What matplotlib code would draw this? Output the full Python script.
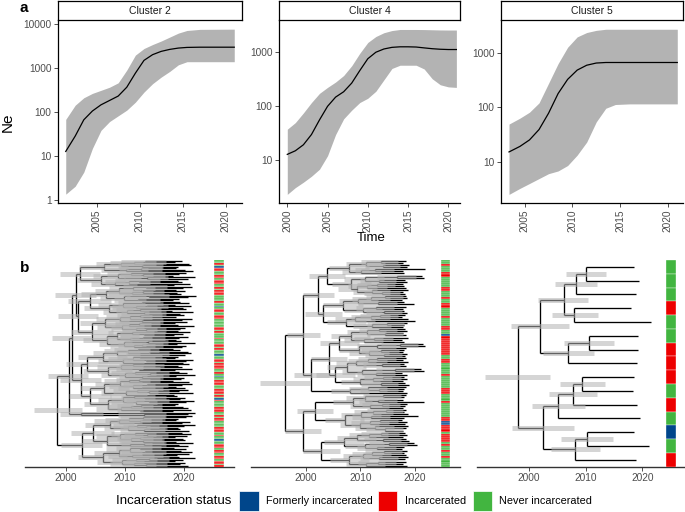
import numpy as np
import matplotlib
matplotlib.use('Agg')
import matplotlib.pyplot as plt
from matplotlib.collections import LineCollection
from matplotlib.patches import Rectangle

plt.rcParams['font.family'] = ['Liberation Sans', 'DejaVu Sans']

# ---- panel a: skyline Ne (median + 95% HPD) ----
c2_year = [2001.4, 2002.5, 2003.5, 2004.5, 2005.5, 2006.5, 2007.5, 2008.5, 2009.5,
           2010.5, 2011.5, 2012.5, 2013.5, 2014.5, 2015.5, 2017.0, 2021.0]
c2_mid = [12.9, 28.8, 67.6, 107, 148, 186, 234, 372, 776, 1514, 2042, 2427, 2692,
          2884, 2985, 3020, 3020]
c2_hi = [69, 145, 214, 269, 316, 372, 468, 912, 1995, 2818, 3467, 4169, 5129, 6310,
         7244, 7674, 7762]
c2_lo = [1.38, 2.09, 4.37, 15.1, 38.9, 61.7, 83.2, 112, 170, 288, 447, 631, 851, 1202,
         1413, 1413, 1413]

c4_year = [2000, 2001, 2002, 2003, 2004, 2005, 2006, 2007, 2008, 2009, 2010, 2011,
           2012, 2013, 2014, 2015, 2016, 2017, 2018, 2019, 2020, 2021]
c4_mid = [12.7, 14.8, 19.1, 29.5, 55, 98, 145, 182, 263, 447, 741, 977, 1122, 1202,
          1230, 1230, 1219, 1175, 1135, 1109, 1096, 1096]
c4_hi = [37, 49, 74, 115, 170, 219, 275, 363, 550, 933, 1479, 1905, 2239, 2455, 2570,
         2570, 2570, 2560, 2540, 2520, 2512, 2512]
c4_lo = [2.32, 3.09, 3.89, 5.01, 6.76, 12.0, 29.5, 57.5, 83.2, 115, 138, 186, 302,
         490, 562, 562, 562, 479, 316, 245, 224, 219]

c5_year = [2003.35, 2004.5, 2005.5, 2006.5, 2007.5, 2008.5, 2009.5, 2010.5, 2011.5,
           2012.5, 2013.5, 2014.5, 2016.0, 2021.0]
c5_mid = [15.1, 19.1, 25.1, 38.9, 77.6, 178, 324, 479, 589, 646, 661, 661, 661, 661]
c5_hi = [49, 63, 81, 120, 275, 631, 1259, 1950, 2344, 2570, 2692, 2692, 2692, 2692]
c5_lo = [2.51, 3.24, 3.98, 4.90, 6.03, 6.76, 8.51, 13.2, 22.9, 53.7, 95.5, 112, 115, 115]

# ---- panel b: dated trees, node label = date/hpd_lo/hpd_hi (years after 2000) ----
BASE_YEAR = 2000
tree_c2 = (
    "((((("
    "((((19.6,18.4)13.4/9.4/16.9,20.8)11.6/7.5/15.2,(21.2,19.0)12.9/8.8/16.5)9.3/5.1/13.0,((18.7,20.1)12.7/8.9/16.3,21.6)10.2/6.0/13.9)6.4/2.2/10.5"
    ","
    "(((20.3,(19.2,18.1)13.1/9.2/16.7)11.0/6.9/14.8,(21.8,20.6)13.8/9.9/17.2)8.8/4.6/12.7,(((18.9,19.7)12.4/8.3/16.0,21.0)10.6/6.6/14.3,18.3)8.3/4.2/12.1)5.9/1.8/10.0"
    ")2.4/-1.0/5.8,(("
    "((((21.4,19.9)13.6/9.6/17.1,18.6)11.4/7.3/15.0,((20.2,18.8)13.0/9.0/16.6,19.5)11.1/7.1/14.8)9.0/4.9/12.8,((22.0,20.7)14.1/10.2/17.4,(19.1,18.2)12.2/8.2/15.9)9.9/5.8/13.6)6.8/2.6/10.9"
    ","
    "(((19.3,20.9)12.8/8.8/16.4,((18.5,21.1)13.7/9.8/17.2,19.8)11.9/7.8/15.5)9.7/5.5/13.4,((20.4,18.0)12.5/8.5/16.1,(21.5,19.4)13.3/9.3/16.9)10.4/6.3/14.1)7.3/3.1/11.4"
    ")4.0/0.4/7.6,("
    "((((20.0,18.7)12.6/8.6/16.2,21.3)10.9/6.8/14.6,(19.6,20.5)12.9/8.9/16.5)9.2/5.0/13.0,(((18.4,19.0)12.3/8.3/15.9,21.7)10.7/6.6/14.4,(20.2,(19.3,18.9)13.5/9.5/17.0)11.8/7.7/15.4)9.5/5.3/13.2)6.6/2.4/10.7"
    ","
    "(((21.0,(19.8,18.3)13.2/9.2/16.8)11.2/7.1/14.9,((20.6,19.1)13.1/9.1/16.7,18.6)10.8/6.7/14.5)8.6/4.4/12.4,((19.5,21.9)13.9/10.0/17.3,((18.8,20.3)12.8/8.8/16.4,19.7)11.5/7.4/15.1)9.8/5.6/13.5)7.0/2.8/11.1"
    ")4.4/0.8/8.0)2.0/-1.4/5.4)1.7/-1.8/5.1,(("
    "((((18.2,19.4)12.2/8.2/15.8,(20.7,21.2)14.0/10.1/17.4)10.5/6.4/14.2,20.1)8.7/4.5/12.5,(((19.0,18.5)12.6/8.6/16.2,(21.6,20.4)13.5/9.5/17.0)11.3/7.2/15.0,19.9)9.6/5.4/13.3)6.2/2.0/10.3"
    ","
    "(((20.8,(18.9,19.6)13.0/9.0/16.6)11.3/7.2/15.0,(21.4,18.4)12.4/8.4/16.0)9.4/5.2/13.1,((19.2,(20.5,21.8)14.2/10.3/17.5)11.7/7.6/15.3,(18.7,20.0)12.9/8.9/16.5)10.0/5.9/13.7)7.1/2.9/11.2"
    ")3.6/0.0/7.2,("
    "((((19.5,18.1)12.4/8.4/16.0,20.9)10.6/6.5/14.3,((21.3,19.7)13.7/9.7/17.2,(18.6,20.2)12.8/8.8/16.4)11.4/7.3/15.0)9.1/4.9/12.9,((20.6,(19.1,21.5)14.0/10.1/17.4)12.0/7.9/15.6,18.3)10.1/6.0/13.8)6.5/2.3/10.6"
    ","
    "(((18.8,(20.1,19.3)13.4/9.4/16.9)11.5/7.4/15.1,((21.7,20.3)14.1/10.2/17.4,19.0)11.8/7.7/15.4)9.6/5.4/13.3,(((18.5,19.8)12.7/8.7/16.3,20.7)11.0/6.9/14.7,(21.1,18.2)12.6/8.6/16.2)9.3/5.1/13.0)7.2/3.0/11.3"
    ")4.1/0.5/7.7)2.5/-1.0/5.9)1.0/-2.4/4.3,"
    "(21.8,(20.6,21.3)13.2/8.8/17.0)2.6/-1.0/6.2)0.5/-3.0/3.8,(("
    "((((20.4,19.0)13.1/9.1/16.7,(18.7,21.0)12.6/8.6/16.2)10.7/6.6/14.4,19.6)9.0/4.8/12.8,((21.9,(20.0,18.9)13.6/9.6/17.1)12.1/8.0/15.7,(19.4,20.8)13.2/9.2/16.8)10.5/6.4/14.2)7.4/3.2/11.5"
    ","
    "(((19.7,(21.2,20.5)13.8/9.9/17.2)11.7/7.6/15.3,((18.4,19.9)12.6/8.6/16.2,(20.2,18.6)13.0/9.0/16.6)11.0/6.9/14.7)9.2/5.0/13.0,((21.6,19.2)13.3/9.3/16.9,20.6)10.9/6.8/14.6)6.9/2.7/11.0"
    ")4.5/0.9/8.1,"
    "((((18.3,20.3)12.5/8.5/16.1,(19.5,21.4)13.4/9.4/16.9)10.8/6.7/14.5,((20.9,18.8)12.9/8.9/16.5,19.1)11.2/7.1/14.9)9.0/4.8/12.8,(((21.8,19.8)14.0/10.1/17.4,18.5)11.9/7.8/15.5,(20.1,(19.4,20.7)13.6/9.6/17.1)11.6/7.5/15.2)9.5/5.3/13.2)6.3/2.1/10.4"
    ")2.7/-0.8/6.1)-1.5/-5.5/2.7"
)
tree_c4 = (
    "((("
    "((((18.3,17.9)13.8/10.2/17.0,(18.9,18.5)14.1/10.9/17.3)11.0/7.4/14.5,((21.9,17.8)12.6/9.0/16.1,18.1)10.2/6.7/13.8)7.9/4.2/11.6,(((21.3,21.6)16.8/13.1/20.2,(18.2,18.6)13.4/10.0/16.6)10.8/7.0/14.3,(((17.8,18.0)13.0/9.4/16.4,18.4)11.3/7.7/14.8,(18.7,(17.9,18.2)14.0/10.6/17.2)12.1/8.6/15.5)9.4/5.8/13.0)8.3/4.7/11.9)3.9/0.5/7.2"
    ","
    "(((((18.3,18.6)14.5/11.1/17.8,17.7)12.0/8.5/15.4,(18.1,19.9)13.2/9.6/16.7)9.6/6.0/13.2,((18.4,17.9)12.8/9.2/16.2,(18.0,18.5)14.4/11.0/17.6)10.5/6.9/14.0)6.8/3.2/10.4,((((18.2,17.6)13.6/10.0/17.0,18.7)11.9/8.3/15.4,20.0)9.0/5.3/12.6,((18.5,18.1)14.8/11.3/18.0,17.8)12.2/8.6/15.7)7.4/3.8/11.0)3.2/-0.2/6.6"
    ")2.3/-0.5/5.1,(("
    "((((18.2,18.5)13.4/9.8/16.8,(17.9,18.3)14.6/11.2/17.8)11.2/7.6/14.7,((18.7,17.6)12.5/8.9/16.0,18.1)10.6/7.0/14.1)8.2/4.6/11.8,(((21.5,21.8)17.2/13.8/20.6,18.4)13.0/9.4/16.5,((18.0,17.8)13.8/10.2/17.1,(18.6,18.2)14.3/10.8/17.6)11.6/8.0/15.2)9.7/6.1/13.3)6.1/2.6/9.7"
    ","
    "(((((18.3,17.9)13.1/9.5/16.6,18.8)11.4/7.8/14.9,(18.1,18.4)14.0/10.5/17.3)9.2/5.6/12.8,((21.2,21.6)16.4/12.8/19.9,(17.7,18.5)12.9/9.3/16.4)10.3/6.7/13.9)7.5/3.9/11.1,(((18.0,18.6)14.2/10.7/17.5,17.8)12.3/8.7/15.8,(18.2,18.9)13.7/10.1/17.0)10.0/6.4/13.6)5.4/1.9/9.0"
    ")4.3/1.0/7.6,"
    "((18.4,(18.1,17.9)13.5/10.0/16.9)11.4/7.9/14.9,18.6)8.1/4.6/11.6"
    ")1.0/-2.2/4.2)-0.5/-3.5/2.5,("
    "((((18.4,18.0)14.1/10.5/17.4,(17.8,21.7)13.3/9.7/16.8)10.9/7.3/14.4,((18.6,18.2)13.9/10.3/17.2,17.9)11.7/8.1/15.2)8.6/5.0/12.2,((((18.3,18.1)14.7/11.3/17.9,18.7)12.4/8.8/15.9,(20.5,18.0)12.0/8.4/15.5)10.1/6.5/13.7,(((17.7,18.5)13.6/10.0/17.0,18.2)11.8/8.2/15.3,(18.8,(18.4,17.9)14.5/11.0/17.8)12.6/9.0/16.1)9.9/6.3/13.5)7.1/3.5/10.7)1.7/-1.6/5.0"
    ","
    "(((((18.2,18.6)13.8/10.2/17.1,17.8)11.5/7.9/15.0,(18.3,18.9)14.2/10.6/17.5)9.3/5.7/12.9,((19.8,20.4)15.2/11.6/18.6,(18.1,17.7)13.0/9.4/16.5)10.8/7.2/14.3)7.0/3.4/10.6,((((18.5,18.0)14.4/10.9/17.7,18.3)12.1/8.5/15.6,(18.7,18.2)13.5/9.9/16.9)10.4/6.8/14.0,((18.4,17.9)13.2/9.6/16.6,18.6)11.0/7.4/14.6)8.0/4.4/11.6)2.8/-0.6/6.2"
    ")-0.5/-3.8/2.8)-3.9/-8.4/0.7"
)
tree_c5 = (
    "(((((18.5,19.4)10.0/6.5/13.6,18.9)8.3/4.6/12.0,(18.0,21.5)8.0/4.1/12.1)6.1/1.6/10.4,"
    "((19.2,19.2)10.6/6.2/15.0,19.1)6.8/2.4/11.4)1.9/-3.2/7.1,"
    "((((18.5,18.4)9.4/5.5/13.4,19.0)7.8/3.6/12.0,19.5)5.2/0.5/9.9,"
    "((18.6,21.2)10.2/5.7/14.8,18.9)8.2/3.9/12.5)2.4/-2.9/7.9)-2.0/-7.8/3.8"
)

# tip status, top to bottom: N = never, I = incarcerated, F = formerly
status_c2 = ("NNINFIINNNIINIIINNIN" "IIINNNNINNFNIINNIIIN" "NNNNIININNNINNNIININ"
             "NNFNNIINIIIINNINFNNI" "IINNNIIININFINNNNIII" "NNINIINNNNIIINNINNFN"
             "NIIINIINNIINIINI")
status_c4 = ("NNINNNIINN" "NNNIINNNIN" "NIINNNNINN" "NNIINNFIII" "IIIIIINNII"
             "NNNNNINNNN" "NNIIINNNIN" "NNNNNNIIFF" "IIINIIIINI" "NNINNINNNN")
status_c5 = "NNNINNIIININFNI"

status_names = ["Formerly incarcerated", "Incarcerated", "Never incarcerated"]
status_colors = {"F": "#00468B", "I": "#ED0000", "N": "#42B540"}
status_keys = ["F", "I", "N"]

W, H = 685, 512
fig = plt.figure(figsize=(6.85, 5.12), dpi=100)


def px_axes(x0, y0, x1, y1):
    return fig.add_axes([x0 / W, 1 - y1 / H, (x1 - x0) / W, (y1 - y0) / H])


def parse_newick(s):
    pos = 0

    def read_label():
        nonlocal pos
        j = pos
        while pos < len(s) and s[pos] not in ',)':
            pos += 1
        return s[j:pos]

    def node():
        nonlocal pos
        if s[pos] == '(':
            pos += 1
            kids = [node()]
            while s[pos] == ',':
                pos += 1
                kids.append(node())
            pos += 1  # ')'
            t, lo, hi = [float(v) + BASE_YEAR for v in read_label().split('/')]
            return {'t': t, 'lo': lo, 'hi': hi, 'kids': kids}
        return {'t': float(read_label()) + BASE_YEAR, 'kids': []}

    return node()


def layout(nd, counter):
    if not nd['kids']:
        counter[0] += 1
        nd['y'] = counter[0]
        return
    for k in nd['kids']:
        layout(k, counter)
    ys = [k['y'] for k in nd['kids']]
    nd['y'] = (min(ys) + max(ys)) / 2


def collect(nd, segs, bars):
    if not nd['kids']:
        return
    ys = [k['y'] for k in nd['kids']]
    segs.append([(nd['t'], min(ys)), (nd['t'], max(ys))])
    bars.append([(nd['lo'], nd['y']), (nd['hi'], nd['y'])])
    for k in nd['kids']:
        segs.append([(nd['t'], k['y']), (k['t'], k['y'])])
        collect(k, segs, bars)


tick_gray = '#4D4D4D'

# ---- top row ----
top_specs = [
    ("Cluster 2", c2_year, c2_lo, c2_mid, c2_hi, (58, 242), (2000.5, 2021.9), (-0.061, 4.098),
     [2005, 2010, 2015, 2020], [1, 10, 100, 1000, 10000]),
    ("Cluster 4", c4_year, c4_lo, c4_mid, c4_hi, (279, 460), (1998.97, 2021.45), (0.206, 3.585),
     [2000, 2005, 2010, 2015, 2020], [10, 100, 1000]),
    ("Cluster 5", c5_year, c5_lo, c5_mid, c5_hi, (501, 683), (2002.51, 2021.6), (0.242, 3.6),
     [2005, 2010, 2015, 2020], [10, 100, 1000]),
]
for name, yr, lo, mid, hi, (x0, x1), xl, yl, xt, yt in top_specs:
    ax = px_axes(x0, 20, x1, 203)
    ax.fill_between(yr, lo, hi, color='#B3B3B3', lw=0)
    ax.plot(yr, mid, color='black', lw=0.9)
    ax.set_yscale('log')
    ax.set_xlim(*xl)
    ax.set_ylim(10 ** yl[0], 10 ** yl[1])
    ax.minorticks_off()
    ax.set_xticks(xt)
    ax.set_xticklabels([str(v) for v in xt], rotation=90, fontsize=7.3, color=tick_gray)
    ax.set_yticks(yt)
    ax.set_yticklabels([str(v) for v in yt], fontsize=7.3, color=tick_gray)
    for sp in ['top', 'right']:
        ax.spines[sp].set_visible(False)
    for sp in ['left', 'bottom']:
        ax.spines[sp].set_linewidth(0.9)
    ax.tick_params(length=2.75, width=0.6, color='#333333', pad=2)

    sax = px_axes(x0, 1, x1, 20)
    sax.set_xticks([])
    sax.set_yticks([])
    for sp in sax.spines.values():
        sp.set_linewidth(0.9)
    sax.text(0.5, 0.5, name, ha='center', va='center', fontsize=7.5, color='#1A1A1A',
             transform=sax.transAxes)

fig.text(7.5 / W, 1 - 122 / H, "Ne", rotation=90, ha='center', va='center', fontsize=11)
fig.text(371 / W, 1 - 238 / H, "Time", ha='center', va='center', fontsize=9.5)
fig.text(20 / W, 1 - 12 / H, "a", fontweight='bold', fontsize=11, va='baseline')
fig.text(20 / W, 1 - 272 / H, "b", fontweight='bold', fontsize=11, va='baseline')

# ---- bottom row ----
bottom_specs = [
    (tree_c2, status_c2, (25, 234), (1993.05, 2028.47), 2025.1),
    (tree_c4, status_c4, (250.7, 460), (1989.85, 2028.3), 2024.75),
    (tree_c5, status_c5, (476.7, 685), (1990.8, 2027.5), 2024.2),
]
strip_width = 1.65
for tree_str, status, (x0, x1), xl, strip_x in bottom_specs:
    root = parse_newick(tree_str)
    counter = [0]
    layout(root, counter)
    n_tips = counter[0]
    assert n_tips == len(status), (n_tips, len(status))
    segs, bars = [], []
    collect(root, segs, bars)

    ax = px_axes(x0, 260, x1, 466.7)
    ax.add_collection(LineCollection(segs, colors='black', linewidths=0.95, zorder=2))
    ax.add_collection(LineCollection(bars, colors='#B3B3B3', alpha=0.55, linewidths=3.6,
                                     capstyle='butt', zorder=3))
    tips = np.arange(1, n_tips + 1)
    ax.barh(tips, strip_width, left=strip_x, height=1.0,
            color=[status_colors[c] for c in status], edgecolor='white', linewidth=0.25,
            zorder=4)
    ax.set_xlim(*xl)
    ax.set_ylim(n_tips + 0.5, 0.5)
    for sp in ['top', 'right', 'left']:
        ax.spines[sp].set_visible(False)
    ax.spines['bottom'].set_linewidth(1.0)
    ax.spines['bottom'].set_color('#333333')
    ax.set_yticks([])
    ax.set_xticks([2000, 2010, 2020])
    ax.set_xticklabels(['2000', '2010', '2020'], fontsize=7.3, color=tick_gray)
    ax.tick_params(axis='x', length=2.75, width=0.6, color='#333333', pad=2)
    ax.patch.set_alpha(0)

# ---- legend ----
fig.text(116 / W, 1 - 501 / H, "Incarceration status", ha='left', va='center', fontsize=9.5)
key_x = [239, 377.7, 472.5]
label_x = [265.5, 405, 499]
for key, name, kx, lx in zip(status_keys, status_names, key_x, label_x):
    fig.patches.append(Rectangle((kx / W, 1 - 511 / H), 19.5 / W, 20 / H,
                                 transform=fig.transFigure, facecolor=status_colors[key],
                                 edgecolor='white', linewidth=0.5))
    fig.text(lx / W, 1 - 501 / H, name, ha='left', va='center', fontsize=7.8)

fig.savefig('out.png', dpi=100)
